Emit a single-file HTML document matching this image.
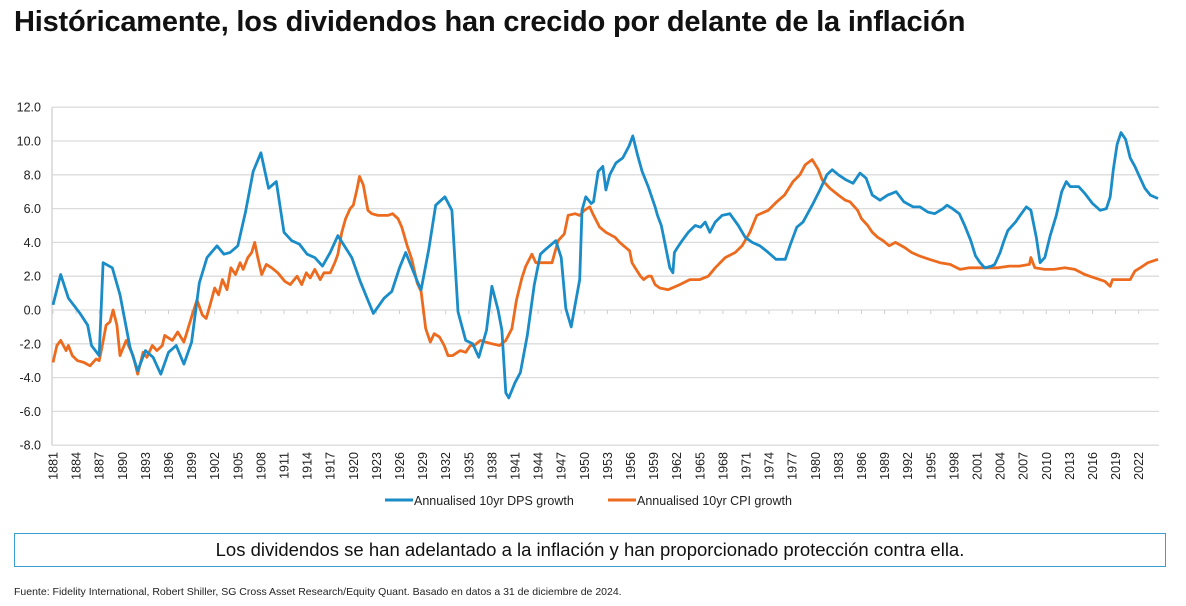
<!DOCTYPE html>
<html><head><meta charset="utf-8"><style>
body{margin:0;width:1186px;height:606px;background:#fff;font-family:"Liberation Sans",sans-serif;position:relative;overflow:hidden}
#title{position:absolute;left:14px;top:6px;font-size:29px;font-weight:bold;color:#111;letter-spacing:-0.2px}
#box{position:absolute;left:14px;top:533px;width:1150px;height:32px;border:1.5px solid #3a9fd0;text-align:center;line-height:32px;font-size:18.5px;color:#111}
#foot{position:absolute;left:14px;top:586px;font-size:10.5px;color:#222}
svg{position:absolute;left:0;top:0}
</style></head><body>
<div id="title">Históricamente, los dividendos han crecido por delante de la inflación</div>
<svg id="chart" width="1186" height="520"></svg>
<div id="box">Los dividendos se han adelantado a la inflación y han proporcionado protección contra ella.</div>
<div id="foot">Fuente: Fidelity International, Robert Shiller, SG Cross Asset Research/Equity Quant. Basado en datos a 31 de diciembre de 2024.</div>
<script>
const yTicks=[12,10,8,6,4,2,0,-2,-4,-6,-8];
const xTickYears=[1881,1884,1887,1890,1893,1896,1899,1902,1905,1908,1911,1914,1917,1920,1923,1926,1929,1932,1935,1938,1941,1944,1947,1950,1953,1956,1959,1962,1965,1968,1971,1974,1977,1980,1983,1986,1989,1992,1995,1998,2001,2004,2007,2010,2013,2016,2019,2022];
const dpsYears=[1881,1882,1883,1884.5,1885.5,1886,1887,1887.5,1888.7,1889.7,1891,1892,1893,1894,1895,1896,1897,1898,1899,1900,1901,1902.3,1903.2,1904,1905,1906,1907,1908,1909,1910,1911,1912,1913,1914,1915,1916,1917,1918,1919.8,1920.9,1922.6,1924,1925,1926,1926.8,1928.4,1928.8,1929.8,1930.7,1931.9,1932.8,1933.6,1934.6,1935.5,1936.3,1937.3,1938,1938.8,1939.3,1939.8,1940.2,1941,1941.7,1942.6,1943.5,1944.3,1945,1946.3,1947,1947.6,1948.3,1948.8,1949.4,1949.7,1950.2,1950.9,1951.2,1951.8,1952.4,1952.8,1953.3,1954.1,1955,1955.8,1956.3,1956.9,1957.5,1958.3,1959.2,1959.5,1960,1960.5,1961.1,1961.5,1961.7,1962.1,1962.7,1963.5,1964.4,1965.1,1965.7,1966.3,1967,1967.9,1968.9,1970,1970.9,1971.8,1972.8,1973.9,1974.9,1976.1,1976.7,1977.6,1978.4,1979.6,1980.6,1981.5,1982.2,1983,1984,1984.9,1985.8,1986.6,1987.4,1988.4,1989.4,1990.5,1991.5,1992.7,1993.6,1994.6,1995.5,1996.6,1997.1,1997.8,1998.7,1999.4,2000.2,2000.8,2001.4,2002,2002.9,2003.3,2004,2004.5,2005,2006,2006.6,2007.4,2008,2008.7,2009.2,2009.8,2010.5,2011.3,2012,2012.6,2013.1,2014.2,2015,2016,2017,2017.8,2018.3,2018.7,2019.2,2019.7,2020.3,2020.9,2021.5,2022.2,2022.8,2023.5,2024.5];
const dpsValues=[0.3,2.1,0.7,-0.2,-0.9,-2.1,-2.7,2.8,2.5,0.9,-2.2,-3.6,-2.4,-2.8,-3.8,-2.5,-2.1,-3.2,-1.9,1.6,3.1,3.8,3.3,3.4,3.8,5.8,8.2,9.3,7.2,7.6,4.6,4.1,3.9,3.3,3.1,2.6,3.4,4.4,3.1,1.7,-0.2,0.7,1.1,2.5,3.4,1.6,1.2,3.6,6.2,6.7,5.9,-0.1,-1.8,-2.0,-2.8,-1.2,1.4,0,-1.2,-4.9,-5.2,-4.3,-3.7,-1.5,1.5,3.3,3.6,4.1,3.1,0.1,-1.0,0.3,1.8,5.9,6.7,6.3,6.4,8.2,8.5,7.1,8.0,8.7,9.0,9.7,10.3,9.2,8.2,7.3,6.1,5.6,5.0,3.9,2.5,2.2,3.4,3.7,4.1,4.6,5.0,4.9,5.2,4.6,5.2,5.6,5.7,5.0,4.3,4.0,3.8,3.4,3.0,3.0,3.8,4.9,5.2,6.2,7.1,8.0,8.3,8.0,7.7,7.5,8.1,7.8,6.8,6.5,6.8,7.0,6.4,6.1,6.1,5.8,5.7,6.0,6.2,6.0,5.7,5.0,4.1,3.2,2.8,2.5,2.6,2.7,3.4,4.1,4.7,5.2,5.6,6.1,5.9,4.3,2.8,3.1,4.4,5.6,7.0,7.6,7.3,7.3,6.9,6.3,5.9,6.0,6.7,8.3,9.8,10.5,10.1,9.0,8.5,7.8,7.2,6.8,6.6];
const cpiYears=[1881,1881.5,1882,1882.7,1883,1883.5,1884.2,1885,1885.8,1886.6,1887,1887.4,1887.9,1888.4,1888.8,1889.3,1889.7,1890.5,1890.8,1891.4,1892,1892.7,1893.2,1893.9,1894.5,1895.2,1895.5,1896.5,1897.2,1898,1899,1899.7,1900.4,1900.9,1901.4,1902,1902.5,1903,1903.6,1904.1,1904.7,1905.3,1905.7,1906.3,1906.8,1907.2,1907.6,1908.1,1908.7,1909.4,1910.2,1911.1,1911.8,1912.7,1913.3,1913.9,1914.4,1915,1915.7,1916.2,1917,1917.6,1918,1918.5,1919,1919.6,1920,1920.5,1920.8,1921.3,1921.9,1922.4,1923.2,1924.5,1925.1,1925.8,1926.3,1927,1927.6,1928.3,1928.8,1929.4,1930,1930.5,1931.2,1931.8,1932.3,1932.9,1933.9,1934.6,1935.2,1935.7,1936.5,1937.2,1938,1939,1939.8,1940.6,1941.2,1941.9,1942.4,1943.2,1943.7,1944.8,1945.8,1946.6,1947.4,1947.9,1948.8,1949.4,1950,1950.7,1951.1,1952,1952.8,1954,1954.6,1955.9,1956.2,1956.6,1957.3,1957.7,1958.3,1958.7,1959.2,1959.8,1960.9,1962.4,1963.7,1965,1966.1,1967,1968.3,1969.6,1970.5,1971.5,1972.4,1973.9,1975,1976,1977.1,1978,1978.7,1979.6,1980.4,1980.9,1981.9,1983,1983.9,1984.5,1985.5,1986,1986.8,1987.4,1988.1,1988.8,1989.6,1990.4,1991.6,1992.5,1993.5,1994.8,1996.2,1997.5,1998.8,2000,2001.4,2002.6,2003.7,2005.2,2006.5,2007.8,2008,2008.5,2009.8,2011,2012.4,2013.7,2015,2016.3,2017.6,2018.3,2018.6,2019.6,2020.9,2021.5,2022.2,2023.2,2024.5];
const cpiValues=[-3.1,-2.1,-1.8,-2.4,-2.1,-2.7,-3.0,-3.1,-3.3,-2.9,-3.0,-2.1,-0.9,-0.7,0,-0.9,-2.7,-1.8,-2.1,-2.7,-3.8,-2.5,-2.8,-2.1,-2.4,-2.1,-1.5,-1.8,-1.3,-1.9,-0.4,0.6,-0.3,-0.5,0.3,1.3,0.9,1.8,1.2,2.5,2.1,2.8,2.4,3.1,3.4,4.0,3.1,2.1,2.7,2.5,2.2,1.7,1.5,2.0,1.5,2.2,1.9,2.4,1.8,2.2,2.2,2.8,3.3,4.6,5.4,6.0,6.2,7.2,7.9,7.4,5.9,5.7,5.6,5.6,5.7,5.4,4.9,3.8,3.0,1.6,1.1,-1.1,-1.9,-1.4,-1.6,-2.1,-2.7,-2.7,-2.4,-2.5,-2.1,-2.1,-1.8,-1.9,-2.0,-2.1,-1.8,-1.1,0.6,1.9,2.6,3.3,2.8,2.8,2.8,4.1,4.5,5.6,5.7,5.6,5.9,6.1,5.7,4.9,4.6,4.3,4.0,3.5,2.8,2.5,2.0,1.8,2.0,2.0,1.5,1.3,1.2,1.5,1.8,1.8,2.0,2.5,3.1,3.4,3.8,4.6,5.6,5.9,6.4,6.8,7.6,8.0,8.6,8.9,8.3,7.7,7.2,6.8,6.5,6.4,5.9,5.4,5.0,4.6,4.3,4.1,3.8,4.0,3.7,3.4,3.2,3.0,2.8,2.7,2.4,2.5,2.5,2.5,2.5,2.6,2.6,2.7,3.1,2.5,2.4,2.4,2.5,2.4,2.1,1.9,1.7,1.4,1.8,1.8,1.8,2.3,2.5,2.8,3.0];

const svg=document.getElementById('chart');
const NS='http://www.w3.org/2000/svg';
const X0=53,PX=7.7,Y0=310,PY=16.9,XL=52,XR=1159;
const xs=y=>X0+(y-1881)*PX;
const ys=v=>Y0-v*PY;
function mk(t,a){const e=document.createElementNS(NS,t);for(const k in a)e.setAttribute(k,a[k]);svg.appendChild(e);return e;}
yTicks.forEach(v=>{
  const g=mk('line',{x1:XL,x2:XR,y1:ys(v),y2:ys(v),stroke:'#dcdcdc','stroke-width':1.3});
  
  
  const t=mk('text',{x:41,y:ys(v)+4.5,'text-anchor':'end','font-size':12.5,fill:'#222','font-family':'Liberation Sans, sans-serif'});
  t.textContent=v.toFixed(1);
  
  
});
const ax=mk('line',{x1:XL,x2:XL,y1:ys(12),y2:ys(-8),stroke:'#d0d0d0','stroke-width':1.3});


xTickYears.forEach(yr=>{
  const x=xs(yr);
  const tk=mk('line',{x1:x,x2:x,y1:Y0,y2:Y0+4,stroke:'#d0d0d0','stroke-width':1});
  
  
  const t=mk('text',{transform:`translate(${x+4.5},452) rotate(-90)`,'text-anchor':'end','font-size':12.5,fill:'#222','font-family':'Liberation Sans, sans-serif'});
  t.textContent=yr;
  
  
});
function series(yrs,vals,col,name){
  const d=yrs.map((y,i)=>(i?'L':'M')+xs(y).toFixed(1)+','+ys(vals[i]).toFixed(1)).join('');
  const p=mk('path',{d:d,fill:'none',stroke:col,'stroke-width':2.8,'stroke-linejoin':'round'});
  
  
}
series(cpiYears,cpiValues,'#ec6b1e','cpi-growth-line');
series(dpsYears,dpsValues,'#1a8cc8','dps-growth-line');
const legend=[['Annualised 10yr DPS growth','#1a8cc8',385],['Annualised 10yr CPI growth','#ec6b1e',608]];
legend.forEach(l=>{
  const ln=mk('line',{x1:l[2],x2:l[2]+28,y1:500,y2:500,stroke:l[1],'stroke-width':3});
  
  
  const t=mk('text',{x:l[2]+29,y:505,'font-size':12.5,fill:'#222','font-family':'Liberation Sans, sans-serif'});
  t.textContent=l[0];
  
  
});
</script>
</body></html>
